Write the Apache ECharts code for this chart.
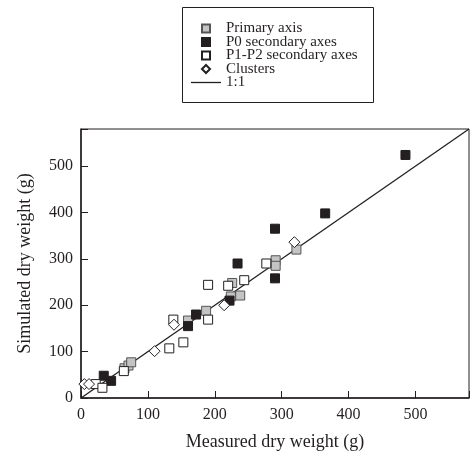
<!DOCTYPE html>
<html>
<head>
<meta charset="utf-8">
<script src="https://cdn.jsdelivr.net/npm/echarts@6/dist/echarts.min.js"></script>
<style>
    html, body { margin: 0; padding: 0; background: #fff; }
    #main { width: 472px; height: 456px; }
</style>
</head>
<body>
<div id="main"></div>
<script>
// data: [measured, simulated]
var primaryAxis = [[65, 64], [71, 70], [75, 77], [160, 167], [187, 188], [224, 219], [238, 221], [226, 248], [291, 297], [291, 285], [322, 320]]
var p0Secondary = [[34, 48], [45, 37], [160, 155], [172, 180], [222, 210], [234, 290], [290, 258], [290, 365], [365, 398], [485, 524]]
var p1p2Secondary = [[22, 30], [32, 22], [64, 58], [132, 107], [153, 120], [138, 169], [190, 169], [190, 244], [220, 242], [244, 254], [277, 290]]
var clusters = [[5, 30], [12, 30], [110, 101], [139, 158], [214, 200], [319, 336]]
var oneToOne = [[0, 0], [580, 580]]
var tickValues = [0, 100, 200, 300, 400, 500]

var font = "'Liberation Serif', 'DejaVu Serif', serif"
var ink = '#231f20'

// legend icons (path so they keep their aspect)
var squareIcon = 'path://M0,0L10,0L10,10L0,10Z'
var diamondIcon = 'path://M5,0L10,5L5,10L0,5Z'
var lineIcon = 'path://M0,0L30,0L30,1.3L0,1.3Z'

function tickLabel(v) {
    return tickValues.indexOf(v) >= 0 ? String(v) : ''
}

var myChart = echarts.init(document.getElementById('main'));
myChart.setOption({
    animation: false,
    textStyle: { fontFamily: font, color: ink },
    grid: {
        left: 81,
        top: 129,
        width: 394,
        height: 281,
        show: true,
        borderColor: ink,
        borderWidth: 1
    },
    graphic: [{
        type: 'rect',
        left: 180,
        top: 5,
        shape: { width: 191, height: 95 },
        style: { fill: 'none', stroke: ink, lineWidth: 1 },
        silent: true
    }],
    legend: {
        orient: 'vertical',
        left: 191,
        top: 21,
        padding: 0,
        itemGap: -1.5,
        itemWidth: 30,
        itemHeight: 8,
        textStyle: { fontFamily: font, fontSize: 15, lineHeight: 13.5, color: ink },
        data: [
            { name: 'Primary axis', icon: squareIcon },
            { name: 'P0 secondary axes', icon: squareIcon },
            { name: 'P1-P2 secondary axes', icon: squareIcon },
            { name: 'Clusters', icon: diamondIcon },
            { name: '1:1', icon: lineIcon, itemStyle: { color: ink, borderWidth: 0 } }
        ]
    },
    xAxis: {
        type: 'value',
        min: 0,
        max: 580,
        interval: 100,
        splitLine: { show: false },
        axisLine: { lineStyle: { color: ink, width: 1.5 } },
        axisTick: { inside: true, length: 7, lineStyle: { color: ink } },
        axisLabel: { fontFamily: font, fontSize: 16, color: ink, margin: 9, formatter: tickLabel },
        name: 'Measured dry weight (g)',
        nameLocation: 'middle',
        nameGap: 35,
        nameTextStyle: { fontFamily: font, fontSize: 18, color: ink }
    },
    yAxis: {
        type: 'value',
        min: 0,
        max: 580,
        interval: 100,
        splitLine: { show: false },
        axisLine: { lineStyle: { color: ink, width: 1.5 } },
        axisTick: { inside: true, length: 7, lineStyle: { color: ink } },
        axisLabel: { fontFamily: font, fontSize: 16, color: ink, margin: 8, formatter: tickLabel },
        name: 'Simulated dry weight (g)',
        nameLocation: 'middle',
        nameGap: 47,
        nameTextStyle: { fontFamily: font, fontSize: 18, color: ink }
    },
    series: [
        {
            name: '1:1',
            type: 'line',
            data: oneToOne,
            symbol: 'none',
            lineStyle: { color: ink, width: 1.3 },
            itemStyle: { color: ink },
            z: 1
        },
        {
            name: 'Primary axis',
            type: 'scatter',
            data: primaryAxis,
            symbol: 'rect',
            symbolSize: 9,
            itemStyle: { color: '#c4c4c4', borderColor: '#555', borderWidth: 1, opacity: 1 },
            z: 3
        },
        {
            name: 'P0 secondary axes',
            type: 'scatter',
            data: p0Secondary,
            symbol: 'rect',
            symbolSize: 9,
            itemStyle: { color: ink, borderColor: ink, borderWidth: 1, opacity: 1 },
            z: 3
        },
        {
            name: 'P1-P2 secondary axes',
            type: 'scatter',
            data: p1p2Secondary,
            symbol: 'rect',
            symbolSize: 9,
            itemStyle: { color: '#fff', borderColor: ink, borderWidth: 1, opacity: 1 },
            z: 3
        },
        {
            name: 'Clusters',
            type: 'scatter',
            data: clusters,
            symbol: 'diamond',
            symbolSize: [11, 11],
            itemStyle: { color: '#fff', borderColor: ink, borderWidth: 1, opacity: 1 },
            z: 4
        }
    ]
});
</script>
</body>
</html>
